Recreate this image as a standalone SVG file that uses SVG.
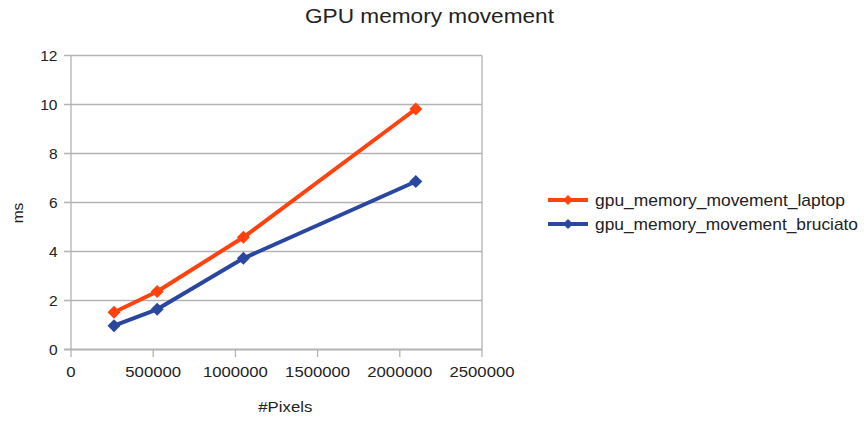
<svg xmlns="http://www.w3.org/2000/svg" width="864" height="421" viewBox="0 0 864 421">
<style>
text{font-family:"Liberation Sans",Arial,sans-serif;fill:#222}
.tick{font-size:15.5px}
.grid{stroke:#b3b3b3;stroke-width:1.3;fill:none}
.ax{stroke:#b3b3b3;stroke-width:2;fill:none}
.s1{stroke:#ff420e;stroke-width:4;fill:none;stroke-linejoin:round}
.s2{stroke:#2a46a0;stroke-width:4;fill:none;stroke-linejoin:round}
</style>
<defs>
<path id="dm" d="M0,-6.5 L6.5,0 L0,6.5 L-6.5,0 Z"/>
<path id="dms" d="M0,-5 L5,0 L0,5 L-5,0 Z"/>
</defs>
<rect width="864" height="421" fill="#fff"/>
<text x="305" y="23.3" font-size="21" textLength="249" lengthAdjust="spacingAndGlyphs">GPU memory movement</text>
<g id="grid">
<path class="grid" d="M64,55.5H482M64,104.5H482M64,153.5H482M64,202.5H482M64,251.5H482M64,300.5H482"/>
<path class="grid" d="M482,55.5V357M71,55.5V357M153.2,349.5V357M235.4,349.5V357M317.6,349.5V357M399.8,349.5V357"/>
<path class="ax" d="M64,349.5H482"/>
</g>
<g id="yticks" class="tick" text-anchor="end">
<text x="57.5" y="61.3">12</text>
<text x="57.5" y="110.3">10</text>
<text x="57.5" y="159.3">8</text>
<text x="57.5" y="208.3">6</text>
<text x="57.5" y="257.3">4</text>
<text x="57.5" y="306.3">2</text>
<text x="57.5" y="355.3">0</text>
</g>
<g id="xticks" class="tick" text-anchor="middle">
<text x="71" y="377" textLength="9.3" lengthAdjust="spacingAndGlyphs">0</text>
<text x="153.2" y="377" textLength="55.8" lengthAdjust="spacingAndGlyphs">500000</text>
<text x="235.4" y="377" textLength="65" lengthAdjust="spacingAndGlyphs">1000000</text>
<text x="317.6" y="377" textLength="65" lengthAdjust="spacingAndGlyphs">1500000</text>
<text x="399.8" y="377" textLength="65" lengthAdjust="spacingAndGlyphs">2000000</text>
<text x="482" y="377" textLength="65" lengthAdjust="spacingAndGlyphs">2500000</text>
</g>
<text x="258.3" y="411.5" font-size="15.5" textLength="54" lengthAdjust="spacingAndGlyphs">#Pixels</text>
<text transform="translate(22.5,213) rotate(-90)" font-size="15.5" text-anchor="middle">ms</text>
<g id="connectors">
<polyline class="s1" points="114,312.3 157.2,291.5 243.4,237.3 415.8,109"/>
<polyline class="s2" points="114,325.7 157.2,309.3 243.4,258.3 415.8,181.5"/>
</g>
<g id="laptop" fill="#ff420e">
<use href="#dm" x="114" y="312.3"/>
<use href="#dm" x="157.2" y="291.5"/>
<use href="#dm" x="243.4" y="237.3"/>
<use href="#dm" x="415.8" y="109"/>
</g>
<g id="bruciato" fill="#2a46a0">
<use href="#dm" x="114" y="325.7"/>
<use href="#dm" x="157.2" y="309.3"/>
<use href="#dm" x="243.4" y="258.3"/>
<use href="#dm" x="415.8" y="181.5"/>
</g>
<g id="legend">
<path class="s1" d="M548,200H588"/>
<use href="#dms" x="568" y="200" fill="#ff420e"/>
<text x="595" y="205.5" font-size="17" textLength="250" lengthAdjust="spacingAndGlyphs">gpu_memory_movement_laptop</text>
<path class="s2" d="M548,224H588"/>
<use href="#dms" x="568" y="224" fill="#2a46a0"/>
<text x="595" y="229.5" font-size="17" textLength="263" lengthAdjust="spacingAndGlyphs">gpu_memory_movement_bruciato</text>
</g>
</svg>
